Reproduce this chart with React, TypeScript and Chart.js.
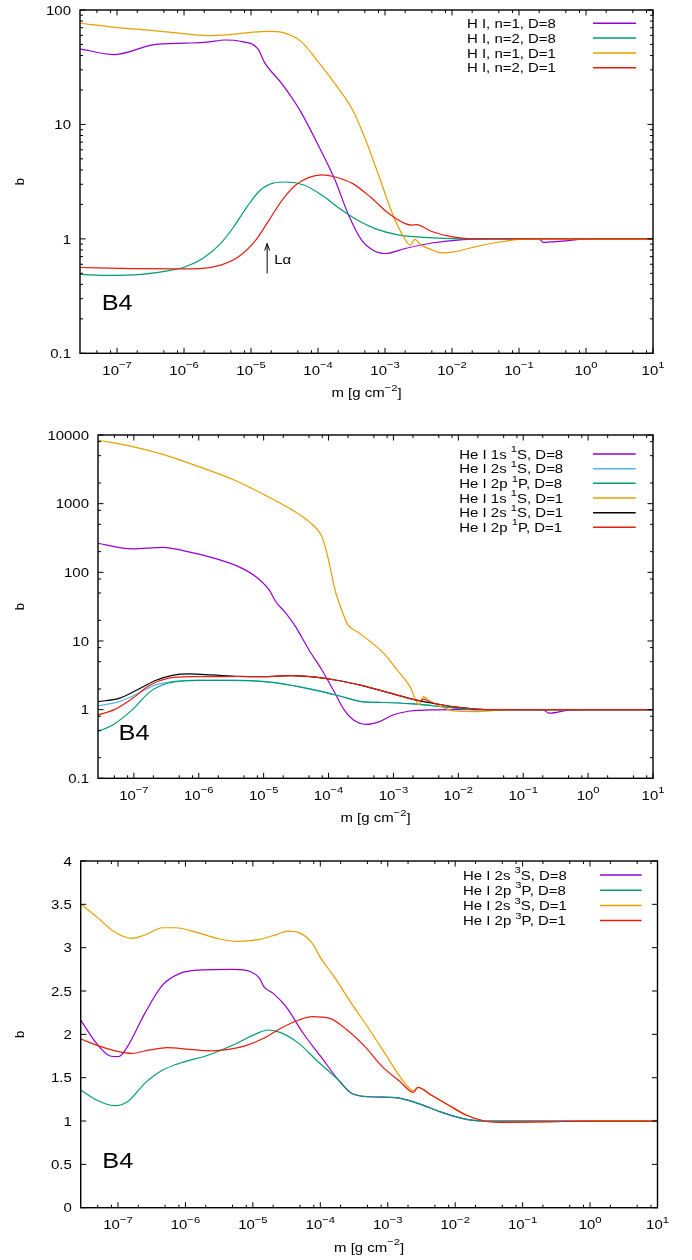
import React, { useEffect, useRef } from 'react';
import { Chart, registerables } from 'chart.js';

Chart.register(...registerables);

const W = 692;
const PANEL_H = 420;
const FONT = '"Liberation Sans", Arial, Helvetica, sans-serif';
const SX = 1.15;

// ---- shared axis data ----
const X_MIN = 2.8e-8;
const X_MAX = 10;
const X_TICKS = [1e-7, 1e-6, 1e-5, 1e-4, 1e-3, 1e-2, 1e-1, 1, 10];
const X_TICK_EXP = ['−7', '−6', '−5', '−4', '−3', '−2', '−1', '0', '1'];
const X_MINOR_MULT = [2, 5, 8];
const X_TITLE = 'm [g cm^{−2}]';
const Y_TITLE = 'b';
const PANEL_TAG = 'B4';

const PURPLE = '#9400D3';
const GREEN = '#009E73';
const ORANGE = '#E69F00';
const RED = '#E51E10';
const LIGHTBLUE = '#56B4E9';
const BLACK = '#000000';

// ---- panel 1: H I ----
const P1_Y_TICKS = [0.1, 1, 10, 100];
const P1_Y_LABELS = ['0.1', '1', '10', '100'];
const P1_LABELS = ['H I, n=1, D=8', 'H I, n=2, D=8', 'H I, n=1, D=1', 'H I, n=2, D=1'];

const H_N1_D8_M = [2.8e-8, 9.2e-8, 3.6e-7, 1.05e-6, 2.2e-6, 4.1e-6, 6.9e-6, 1.27e-5, 1.58e-5, 2.9e-5, 5.4e-5, 9.8e-5, 1.8e-4, 2.8e-4, 4.5e-4, 6.5e-4, 1.02e-3, 2.0e-3, 5.0e-3, 1.46e-2, 3.1e-2, 0.2, 0.23, 0.3, 0.5, 0.8, 1.2, 10];
const H_N1_D8_B = [45.7, 40.8, 49.9, 51.3, 52.3, 54.7, 53.3, 45.7, 35, 22.6, 13.2, 6.8, 3.25, 1.66, 0.97, 0.8, 0.745, 0.824, 0.92, 0.986, 1.0, 1.0, 0.93, 0.94, 0.96, 0.99, 1.0, 1.0];

const H_N2_D8_M = [2.8e-8, 7.9e-8, 2.3e-7, 5.7e-7, 1.05e-6, 1.9e-6, 3.5e-6, 5.5e-6, 8.7e-6, 1.37e-5, 2.15e-5, 3.4e-5, 6.3e-5, 1.15e-4, 2.1e-4, 3.85e-4, 7.1e-4, 1.5e-3, 3.7e-3, 1.46e-2, 10];
const H_N2_D8_B = [0.49, 0.479, 0.49, 0.526, 0.57, 0.673, 0.91, 1.27, 1.9, 2.66, 3.07, 3.14, 2.94, 2.4, 1.84, 1.46, 1.23, 1.09, 1.03, 1.0, 1.0];

const H_N1_D1_M = [2.8e-8, 9.2e-8, 2.65e-7, 7.7e-7, 2.2e-6, 4.7e-6, 1.0e-5, 1.86e-5, 2.9e-5, 5.4e-5, 9.8e-5, 1.8e-4, 3.3e-4, 5.2e-4, 8.2e-4, 1.29e-3, 1.9e-3, 2.4e-3, 2.77e-3, 3.5e-3, 5.1e-3, 6.9e-3, 1.07e-2, 2.0e-2, 4.2e-2, 0.105, 0.32, 10];
const H_N1_D1_B = [76.6, 70.6, 67, 63, 59.8, 61, 63.8, 65.1, 63.8, 54, 36, 22.6, 13.3, 7.2, 3.47, 1.66, 1.04, 0.88, 0.99, 0.88, 0.8, 0.755, 0.77, 0.84, 0.92, 0.99, 1.0, 1.0];

const H_N2_D1_M = [2.8e-8, 1.7e-7, 7.7e-7, 1.9e-6, 3.5e-6, 6.5e-6, 1.17e-5, 1.86e-5, 2.9e-5, 4.6e-5, 7.2e-5, 1.15e-4, 1.8e-4, 3.3e-4, 6.0e-4, 1.1e-3, 2.0e-3, 2.55e-3, 2.95e-3, 5.0e-3, 9.3e-3, 2.0e-2, 10];
const H_N2_D1_B = [0.562, 0.55, 0.547, 0.553, 0.589, 0.697, 0.97, 1.46, 2.17, 2.94, 3.43, 3.62, 3.47, 3.04, 2.33, 1.69, 1.36, 1.32, 1.33, 1.16, 1.05, 1.0, 1.0];

const LYA_M = 1.74e-5;
const LYA_B_FROM = 0.5;
const LYA_B_TO = 0.91;
const LYA_TEXT_M = 2.22e-5;
const LYA_TEXT_B = 0.6;
const LYA_TEXT = 'Lα';

// ---- panel 2: He I singlets ----
const P2_Y_TICKS = [0.1, 1, 10, 100, 1000, 10000];
const P2_Y_LABELS = ['0.1', '1', '10', '100', '1000', '10000'];
const P2_LABELS = ['He I 1s ^{1}S, D=8', 'He I 2s ^{1}S, D=8', 'He I 2p ^{1}P, D=8', 'He I 1s ^{1}S, D=1', 'He I 2s ^{1}S, D=1', 'He I 2p ^{1}P, D=1'];

const HE1S_D8_M = [2.8e-8, 9.5e-8, 2.8e-7, 6.2e-7, 1.6e-6, 4.1e-6, 7.6e-6, 1.22e-5, 1.55e-5, 2.1e-5, 3.1e-5, 5.0e-5, 7.9e-5, 1.26e-4, 1.74e-4, 2.4e-4, 3.8e-4, 6.1e-4, 9.8e-4, 1.8e-3, 4.5e-3, 1.0e-2, 0.2, 0.25, 0.5, 1.0, 10];
const HE1S_D8_B = [264, 219, 231, 204, 164, 121, 86, 55, 37, 26.7, 16.2, 7.4, 3.78, 1.73, 0.99, 0.71, 0.61, 0.67, 0.835, 0.955, 0.995, 1.0, 1.0, 0.89, 0.98, 1.0, 1.0];

const HE2S_D8_M = [2.8e-8, 5.9e-8, 1.11e-7, 2.1e-7, 4.6e-7, 1.0e-6, 3.5e-6, 1.04e-5, 2.2e-5, 6.8e-5, 1.48e-4, 3.2e-4, 7.1e-4, 1.8e-3, 4.0e-3, 8.7e-3, 1.9e-2, 10];
const HE2S_D8_B = [1.13, 1.31, 1.69, 2.28, 2.61, 2.67, 2.67, 2.56, 2.34, 1.89, 1.58, 1.31, 1.27, 1.22, 1.14, 1.06, 1.0, 1.0];

const HE2P_D8_M = [2.8e-8, 5.0e-8, 9.5e-8, 1.78e-7, 3.3e-7, 6.2e-7, 1.0e-6, 3.5e-6, 1.04e-5, 2.2e-5, 6.8e-5, 1.48e-4, 3.2e-4, 7.1e-4, 1.8e-3, 4.0e-3, 8.7e-3, 1.9e-2, 10];
const HE2P_D8_B = [0.478, 0.62, 1.0, 1.83, 2.42, 2.64, 2.67, 2.67, 2.56, 2.34, 1.89, 1.58, 1.31, 1.27, 1.22, 1.14, 1.06, 1.0, 1.0];

const HE1S_D1_M = [2.8e-8, 9.5e-8, 2.8e-7, 1.0e-6, 3.5e-6, 1.04e-5, 2.65e-5, 5.0e-5, 7.9e-5, 9.3e-5, 1.08e-4, 1.26e-4, 1.6e-4, 2.0e-4, 2.75e-4, 4.4e-4, 7.1e-4, 1.14e-3, 1.8e-3, 2.5e-3, 2.9e-3, 3.7e-3, 5.5e-3, 8.7e-3, 1.9e-2, 4.2e-2, 0.1, 10];
const HE1S_D1_B = [8460, 6760, 5220, 3460, 2210, 1340, 826, 547, 330, 200, 108, 55, 28, 17, 13.7, 9.8, 6.6, 3.8, 2.16, 1.17, 1.55, 1.31, 1.1, 0.955, 0.935, 0.985, 1.0, 1.0];

const HE2S_D1_M = [2.8e-8, 5.9e-8, 1.11e-7, 2.1e-7, 3.9e-7, 7.2e-7, 1.6e-6, 4.1e-6, 1.04e-5, 2.65e-5, 6.8e-5, 1.26e-4, 3.2e-4, 8.3e-4, 1.8e-3, 4.0e-3, 8.7e-3, 1.9e-2, 4.0e-2, 10];
const HE2S_D1_B = [1.31, 1.46, 1.93, 2.64, 3.16, 3.31, 3.2, 3.06, 3.02, 3.12, 2.95, 2.7, 2.26, 1.77, 1.45, 1.24, 1.1, 1.02, 1.0, 1.0];

const HE2P_D1_M = [2.8e-8, 5.0e-8, 9.5e-8, 1.78e-7, 3.3e-7, 7.2e-7, 1.6e-6, 4.1e-6, 1.04e-5, 2.65e-5, 6.8e-5, 1.26e-4, 3.2e-4, 8.3e-4, 1.8e-3, 2.6e-3, 2.9e-3, 3.3e-3, 4.0e-3, 8.7e-3, 1.9e-2, 4.0e-2, 10];
const HE2P_D1_B = [0.836, 1.0, 1.46, 2.28, 2.86, 3.02, 3.02, 3.04, 3.02, 3.12, 2.95, 2.7, 2.26, 1.77, 1.45, 1.34, 1.42, 1.36, 1.26, 1.1, 1.02, 1.0, 1.0];

// ---- panel 3: He I triplets ----
const P3_Y_TICKS = [0, 0.5, 1, 1.5, 2, 2.5, 3, 3.5, 4];
const P3_Y_LABELS = ['0', '0.5', '1', '1.5', '2', '2.5', '3', '3.5', '4'];
const P3_LABELS = ['He I 2s ^{3}S, D=8', 'He I 2p ^{3}P, D=8', 'He I 2s ^{3}S, D=1', 'He I 2p ^{3}P, D=1'];

const HE2S3_D8_M = [2.8e-8, 4.8e-8, 7.6e-8, 1.02e-7, 1.38e-7, 2.5e-7, 4.6e-7, 8.3e-7, 1.5e-6, 5.1e-6, 9.3e-6, 1.26e-5, 1.45e-5, 2.0e-5, 3.1e-5, 5.6e-5, 1.02e-4, 1.86e-4, 2.9e-4, 5.4e-4, 1.32e-3, 2.8e-3, 5.9e-3, 1.26e-2, 2.7e-2, 10];
const HE2S3_D8_B = [2.165, 1.896, 1.75, 1.742, 1.858, 2.242, 2.57, 2.704, 2.742, 2.75, 2.723, 2.646, 2.55, 2.473, 2.32, 2.01, 1.742, 1.473, 1.32, 1.28, 1.27, 1.204, 1.108, 1.03, 1.0, 1.0];

const HE2P3_D8_M = [2.8e-8, 4.8e-8, 8.8e-8, 1.38e-7, 2.5e-7, 4.6e-7, 9.8e-7, 2.0e-6, 5.1e-6, 1.07e-5, 1.7e-5, 2.6e-5, 4.8e-5, 8.7e-5, 1.86e-4, 2.9e-4, 5.4e-4, 1.32e-3, 2.8e-3, 5.9e-3, 1.26e-2, 2.7e-2, 10];
const HE2P3_D8_B = [1.358, 1.242, 1.177, 1.223, 1.435, 1.588, 1.685, 1.75, 1.877, 2.0, 2.05, 2.02, 1.896, 1.704, 1.473, 1.32, 1.28, 1.27, 1.204, 1.108, 1.03, 1.0, 1.0];

const HE2S3_D1_M = [2.8e-8, 4.8e-8, 8.8e-8, 1.6e-7, 2.5e-7, 4.6e-7, 7.2e-7, 1.5e-6, 3.2e-6, 5.9e-6, 1.26e-5, 2.3e-5, 3.3e-5, 4.8e-5, 7.6e-5, 1.02e-4, 1.6e-4, 2.9e-4, 5.4e-4, 9.8e-4, 1.53e-3, 2.4e-3, 2.8e-3, 4.4e-3, 7.9e-3, 1.45e-2, 2.7e-2, 4.8e-2, 0.2, 1.0, 10];
const HE2S3_D1_B = [3.504, 3.358, 3.185, 3.108, 3.146, 3.23, 3.23, 3.173, 3.1, 3.073, 3.096, 3.154, 3.19, 3.173, 3.05, 2.877, 2.665, 2.358, 2.05, 1.74, 1.51, 1.35, 1.388, 1.3, 1.185, 1.07, 1.0, 0.985, 0.99, 1.0, 1.0];

const HE2P3_D1_M = [2.8e-8, 5.6e-8, 1.02e-7, 1.6e-7, 2.95e-7, 5.4e-7, 1.14e-6, 2.4e-6, 4.4e-6, 7.9e-6, 1.45e-5, 2.6e-5, 4.8e-5, 7.6e-5, 1.38e-4, 2.5e-4, 4.6e-4, 8.3e-4, 1.53e-3, 2.4e-3, 2.8e-3, 4.4e-3, 7.9e-3, 1.45e-2, 2.7e-2, 4.8e-2, 0.2, 1.0, 10];
const HE2P3_D1_B = [1.946, 1.858, 1.8, 1.78, 1.82, 1.846, 1.827, 1.81, 1.827, 1.87, 1.954, 2.07, 2.165, 2.204, 2.185, 2.05, 1.858, 1.627, 1.454, 1.33, 1.388, 1.3, 1.185, 1.07, 1.0, 0.985, 0.99, 1.0, 1.0];

// ---- layout / style config ----
type Series = { label: string; m: number[]; b: number[]; color: string };
type PanelCfg = {
  id: string;
  area: { left: number; right: number; top: number; bottom: number };
  yType: 'logarithmic' | 'linear';
  yMin: number;
  yMax: number;
  yTicks: number[];
  yLabels: string[];
  yMinorMult: number[] | null;
  series: Series[];
  legend: { first: number; step: number; textDx: number; lineFrom: number; lineTo: number };
  tag: { m: number; b: number };
  arrow: boolean;
};

const PANELS: PanelCfg[] = [
  {
    id: 'p1',
    area: { left: 80, right: 653, top: 10, bottom: 353.3 },
    yType: 'logarithmic', yMin: 0.1, yMax: 100,
    yTicks: P1_Y_TICKS, yLabels: P1_Y_LABELS, yMinorMult: [2, 3, 4, 5, 6, 7, 8, 9],
    series: [
      { label: P1_LABELS[0], m: H_N1_D8_M, b: H_N1_D8_B, color: PURPLE },
      { label: P1_LABELS[1], m: H_N2_D8_M, b: H_N2_D8_B, color: GREEN },
      { label: P1_LABELS[2], m: H_N1_D1_M, b: H_N1_D1_B, color: ORANGE },
      { label: P1_LABELS[3], m: H_N2_D1_M, b: H_N2_D1_B, color: RED },
    ],
    legend: { first: 13.3, step: 14.8, textDx: 186, lineFrom: 60, lineTo: 17 },
    tag: { m: 5.9e-8, b: 0.239 },
    arrow: true,
  },
  {
    id: 'p2',
    area: { left: 98, right: 653, top: 15, bottom: 358.3 },
    yType: 'logarithmic', yMin: 0.1, yMax: 10000,
    yTicks: P2_Y_TICKS, yLabels: P2_Y_LABELS, yMinorMult: [2, 5, 8],
    series: [
      { label: P2_LABELS[0], m: HE1S_D8_M, b: HE1S_D8_B, color: PURPLE },
      { label: P2_LABELS[1], m: HE2S_D8_M, b: HE2S_D8_B, color: LIGHTBLUE },
      { label: P2_LABELS[2], m: HE2P_D8_M, b: HE2P_D8_B, color: GREEN },
      { label: P2_LABELS[3], m: HE1S_D1_M, b: HE1S_D1_B, color: ORANGE },
      { label: P2_LABELS[4], m: HE2S_D1_M, b: HE2S_D1_B, color: BLACK },
      { label: P2_LABELS[5], m: HE2P_D1_M, b: HE2P_D1_B, color: RED },
    ],
    legend: { first: 19, step: 14.66, textDx: 193.7, lineFrom: 60, lineTo: 17.3 },
    tag: { m: 5.8e-8, b: 0.363 },
    arrow: false,
  },
  {
    id: 'p3',
    area: { left: 80.7, right: 657.5, top: 21, bottom: 367.7 },
    yType: 'linear', yMin: 0, yMax: 4,
    yTicks: P3_Y_TICKS, yLabels: P3_Y_LABELS, yMinorMult: null,
    series: [
      { label: P3_LABELS[0], m: HE2S3_D8_M, b: HE2S3_D8_B, color: PURPLE },
      { label: P3_LABELS[1], m: HE2P3_D8_M, b: HE2P3_D8_B, color: GREEN },
      { label: P3_LABELS[2], m: HE2S3_D1_M, b: HE2S3_D1_B, color: ORANGE },
      { label: P3_LABELS[3], m: HE2P3_D1_M, b: HE2P3_D1_B, color: RED },
    ],
    legend: { first: 14, step: 15.2, textDx: 194.5, lineFrom: 57.5, lineTo: 15.8 },
    tag: { m: 5.85e-8, b: 0.454 },
    arrow: false,
  },
];

const MAJOR = 5.5;
const MINOR = 3;
const FS = 13;

function richSegments(text: string) {
  const segs: { t: string; sup: boolean }[] = [];
  const re = /\^\{([^}]*)\}/g;
  let last = 0;
  let mm: RegExpExecArray | null;
  while ((mm = re.exec(text))) {
    if (mm.index > last) segs.push({ t: text.slice(last, mm.index), sup: false });
    segs.push({ t: mm[1], sup: true });
    last = re.lastIndex;
  }
  if (last < text.length) segs.push({ t: text.slice(last), sup: false });
  return segs;
}

function drawRich(ctx: CanvasRenderingContext2D, text: string, x: number, y: number, fs: number, align: 'left' | 'center' | 'right') {
  const segs = richSegments(text);
  const supFs = fs * 0.75;
  let w = 0;
  for (const s of segs) {
    ctx.font = `${s.sup ? supFs : fs}px ${FONT}`;
    w += ctx.measureText(s.t).width;
  }
  const x0 = align === 'left' ? x : align === 'center' ? x - (w * SX) / 2 : x - w * SX;
  ctx.save();
  ctx.translate(x0, y);
  ctx.scale(SX, 1);
  ctx.textAlign = 'left';
  ctx.textBaseline = 'alphabetic';
  let cx = 0;
  for (const s of segs) {
    ctx.font = `${s.sup ? supFs : fs}px ${FONT}`;
    ctx.fillText(s.t, cx, s.sup ? -fs * 0.5 : 0);
    cx += ctx.measureText(s.t).width;
  }
  ctx.restore();
}

function decorPlugin(cfg: PanelCfg) {
  return {
    id: 'decor_' + cfg.id,
    afterDraw(chart: any) {
      const ctx: CanvasRenderingContext2D = chart.ctx;
      const { left, right, top, bottom } = chart.chartArea;
      const xs = chart.scales.x;
      const ys = chart.scales.y;
      ctx.save();
      ctx.strokeStyle = '#000';
      ctx.fillStyle = '#000';

      // ticks (inward, mirrored)
      ctx.lineWidth = 1;
      ctx.beginPath();
      const vTick = (px: number, len: number) => {
        ctx.moveTo(px, bottom); ctx.lineTo(px, bottom - len);
        ctx.moveTo(px, top); ctx.lineTo(px, top + len);
      };
      const hTick = (py: number, len: number) => {
        ctx.moveTo(left, py); ctx.lineTo(left + len, py);
        ctx.moveTo(right, py); ctx.lineTo(right - len, py);
      };
      X_TICKS.forEach((v) => vTick(xs.getPixelForValue(v), MAJOR));
      for (let d = -8; d <= 1; d++) {
        for (const k of X_MINOR_MULT) {
          const v = k * Math.pow(10, d);
          if (v > X_MIN && v < X_MAX) vTick(xs.getPixelForValue(v), MINOR);
        }
      }
      cfg.yTicks.forEach((v) => hTick(ys.getPixelForValue(v), MAJOR));
      if (cfg.yMinorMult) {
        const d0 = Math.floor(Math.log10(cfg.yMin));
        const d1 = Math.ceil(Math.log10(cfg.yMax));
        for (let d = d0; d < d1; d++) {
          for (const k of cfg.yMinorMult) {
            const v = k * Math.pow(10, d);
            if (v > cfg.yMin && v < cfg.yMax) hTick(ys.getPixelForValue(v), MINOR);
          }
        }
      }
      ctx.stroke();

      // frame
      ctx.lineWidth = 1.4;
      ctx.strokeRect(left, top, right - left, bottom - top);

      // y tick labels
      cfg.yTicks.forEach((v, i) => {
        drawRich(ctx, cfg.yLabels[i], left - 9, ys.getPixelForValue(v) + FS * 0.36, FS, 'right');
      });
      // x tick labels
      X_TICKS.forEach((v, i) => {
        drawRich(ctx, '10^{' + X_TICK_EXP[i] + '}', xs.getPixelForValue(v), bottom + 21.5, FS, 'center');
      });
      // axis titles
      drawRich(ctx, X_TITLE, (left + right) / 2, bottom + 44, FS, 'center');
      ctx.save();
      ctx.translate(20, (top + bottom) / 2);
      ctx.rotate(-Math.PI / 2);
      ctx.font = `${FS}px ${FONT}`;
      ctx.textAlign = 'center';
      ctx.textBaseline = 'middle';
      ctx.fillText(Y_TITLE, 0, 0);
      ctx.restore();

      // legend
      const L = cfg.legend;
      cfg.series.forEach((s, i) => {
        const ry = top + L.first + i * L.step;
        ctx.fillStyle = '#000';
        drawRich(ctx, s.label, right - L.textDx, ry + FS * 0.36, FS, 'left');
        ctx.strokeStyle = s.color;
        ctx.lineWidth = 1.5;
        ctx.beginPath();
        ctx.moveTo(right - L.lineFrom, ry);
        ctx.lineTo(right - L.lineTo, ry);
        ctx.stroke();
      });

      // panel tag
      ctx.fillStyle = '#000';
      drawRich(ctx, PANEL_TAG, xs.getPixelForValue(cfg.tag.m), ys.getPixelForValue(cfg.tag.b), 22, 'left');

      // Lyman alpha arrow
      if (cfg.arrow) {
        const ax = xs.getPixelForValue(LYA_M);
        const y0 = ys.getPixelForValue(LYA_B_FROM);
        const y1 = ys.getPixelForValue(LYA_B_TO);
        ctx.strokeStyle = '#000';
        ctx.lineWidth = 1;
        ctx.beginPath();
        ctx.moveTo(ax, y0);
        ctx.lineTo(ax, y1);
        ctx.moveTo(ax - 2.5, y1 + 7);
        ctx.lineTo(ax, y1);
        ctx.lineTo(ax + 2.5, y1 + 7);
        ctx.stroke();
        drawRich(ctx, LYA_TEXT, xs.getPixelForValue(LYA_TEXT_M), ys.getPixelForValue(LYA_TEXT_B), FS, 'left');
      }
      ctx.restore();
    },
  };
}

function Panel({ cfg }: { cfg: PanelCfg }) {
  const ref = useRef<HTMLCanvasElement>(null);
  useEffect(() => {
    const canvas = ref.current;
    if (!canvas) return;
    const n = cfg.series.length;
    const a = cfg.area;
    const chart = new Chart(canvas, {
      type: 'line',
      data: {
        datasets: cfg.series.map((s, i) => ({
          label: s.label,
          data: s.m.map((x, j) => ({ x, y: s.b[j] })),
          borderColor: s.color,
          backgroundColor: s.color,
          borderWidth: 1.2,
          pointRadius: 0,
          pointHoverRadius: 0,
          fill: false,
          cubicInterpolationMode: 'monotone',
          order: n - i,
        })),
      },
      options: {
        responsive: false,
        animation: false,
        devicePixelRatio: 1,
        events: [],
        layout: { padding: { top: a.top, right: W - a.right, left: 0, bottom: 0 } },
        plugins: { legend: { display: false }, tooltip: { enabled: false } },
        scales: {
          x: {
            type: 'logarithmic',
            min: X_MIN,
            max: X_MAX,
            ticks: { display: false },
            grid: { display: false, drawTicks: false },
            border: { display: false },
            afterFit: (s: any) => { s.height = PANEL_H - a.bottom; },
          },
          y: {
            type: cfg.yType,
            min: cfg.yMin,
            max: cfg.yMax,
            ticks: { display: false },
            grid: { display: false, drawTicks: false },
            border: { display: false },
            afterFit: (s: any) => { s.width = a.left; },
          },
        },
      } as any,
      plugins: [decorPlugin(cfg)],
    } as any);
    return () => chart.destroy();
  }, [cfg]);
  return <canvas ref={ref} width={W} height={PANEL_H} style={{ display: 'block', width: W, height: PANEL_H }} />;
}

export default function App() {
  return (
    <div style={{ position: 'absolute', left: 0, top: 0, width: W, height: PANEL_H * 3, background: '#fff' }}>
      {PANELS.map((p) => (
        <Panel key={p.id} cfg={p} />
      ))}
    </div>
  );
}
